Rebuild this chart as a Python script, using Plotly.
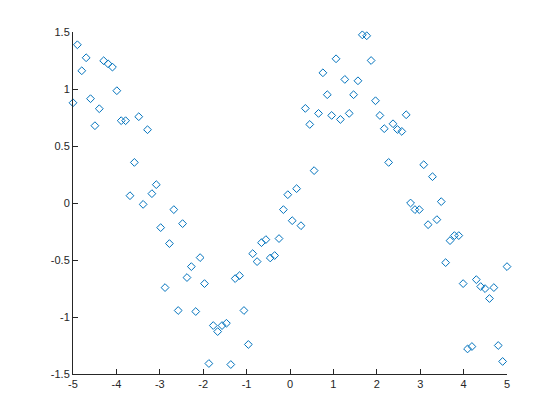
import plotly.graph_objects as go

x_vals = [-5.000, -4.899, -4.798, -4.697, -4.596, -4.495, -4.394, -4.293, -4.192, -4.091,
          -3.990, -3.889, -3.788, -3.687, -3.586, -3.485, -3.384, -3.283, -3.182, -3.081,
          -2.980, -2.879, -2.778, -2.677, -2.576, -2.475, -2.374, -2.273, -2.172, -2.071,
          -1.970, -1.869, -1.768, -1.667, -1.566, -1.465, -1.364, -1.263, -1.162, -1.061,
          -0.960, -0.859, -0.758, -0.657, -0.556, -0.455, -0.354, -0.253, -0.152, -0.051,
          0.051, 0.152, 0.253, 0.354, 0.455, 0.556, 0.657, 0.758, 0.859, 0.960,
          1.061, 1.162, 1.263, 1.364, 1.465, 1.566, 1.667, 1.768, 1.869, 1.970,
          2.071, 2.172, 2.273, 2.374, 2.475, 2.576, 2.677, 2.778, 2.879, 2.980,
          3.081, 3.182, 3.283, 3.384, 3.485, 3.586, 3.687, 3.788, 3.889, 3.990,
          4.091, 4.192, 4.293, 4.394, 4.495, 4.596, 4.697, 4.798, 4.899, 5.000]

y_vals = [0.879, 1.388, 1.160, 1.274, 0.915, 0.678, 0.827, 1.248, 1.221, 1.192,
          0.985, 0.722, 0.722, 0.064, 0.356, 0.757, -0.012, 0.643, 0.082, 0.161,
          -0.216, -0.742, -0.356, -0.058, -0.943, -0.181, -0.654, -0.558, -0.952, -0.479,
          -0.707, -1.408, -1.075, -1.128, -1.075, -1.055, -1.417, -0.663, -0.637, -0.943,
          -1.241, -0.444, -0.514, -0.348, -0.321, -0.482, -0.461, -0.312, -0.058, 0.073,
          -0.155, 0.126, -0.199, 0.830, 0.689, 0.284, 0.786, 1.142, 0.950, 0.768,
          1.265, 0.733, 1.084, 0.786, 0.950, 1.072, 1.475, 1.467, 1.250, 0.897,
          0.768, 0.652, 0.356, 0.695, 0.645, 0.628, 0.774, 0.000, -0.058, -0.058,
          0.336, -0.190, 0.231, -0.146, 0.012, -0.523, -0.330, -0.286, -0.286, -0.707,
          -1.280, -1.259, -0.672, -0.733, -0.751, -0.838, -0.742, -1.250, -1.390, -0.558]

x_ticks = [-5, -4, -3, -2, -1, 0, 1, 2, 3, 4, 5]
x_tick_labels = ["-5", "-4", "-3", "-2", "-1", "0", "1", "2", "3", "4", "5"]
y_ticks = [-1.5, -1, -0.5, 0, 0.5, 1, 1.5]
y_tick_labels = ["-1.5", "-1", "-0.5", "0", "0.5", "1", "1.5"]

fig = go.Figure()
fig.add_trace(go.Scatter(
    x=x_vals, y=y_vals, mode="markers",
    marker=dict(symbol="diamond-open", size=6, color="#0072BD",
                line=dict(width=1, color="#0072BD")),
    cliponaxis=False,
))

axis_common = dict(
    showgrid=False, zeroline=False, showline=True, linecolor="#262626", linewidth=1,
    ticks="inside", ticklen=5, tickcolor="#262626", tickwidth=1,
    tickfont=dict(family="Liberation Sans, Arial, sans-serif", size=11, color="#262626"),
    mirror=False,
)

fig.update_layout(
    width=560, height=420,
    margin=dict(l=65, r=61, t=24, b=54),
    paper_bgcolor="white", plot_bgcolor="white",
    showlegend=False,
    xaxis=dict(range=[-5, 5], tickvals=x_ticks, ticktext=x_tick_labels, **axis_common),
    yaxis=dict(range=[-1.5, 1.5], tickvals=y_ticks, ticktext=y_tick_labels, **axis_common),
)

fig.write_html("out.html")
